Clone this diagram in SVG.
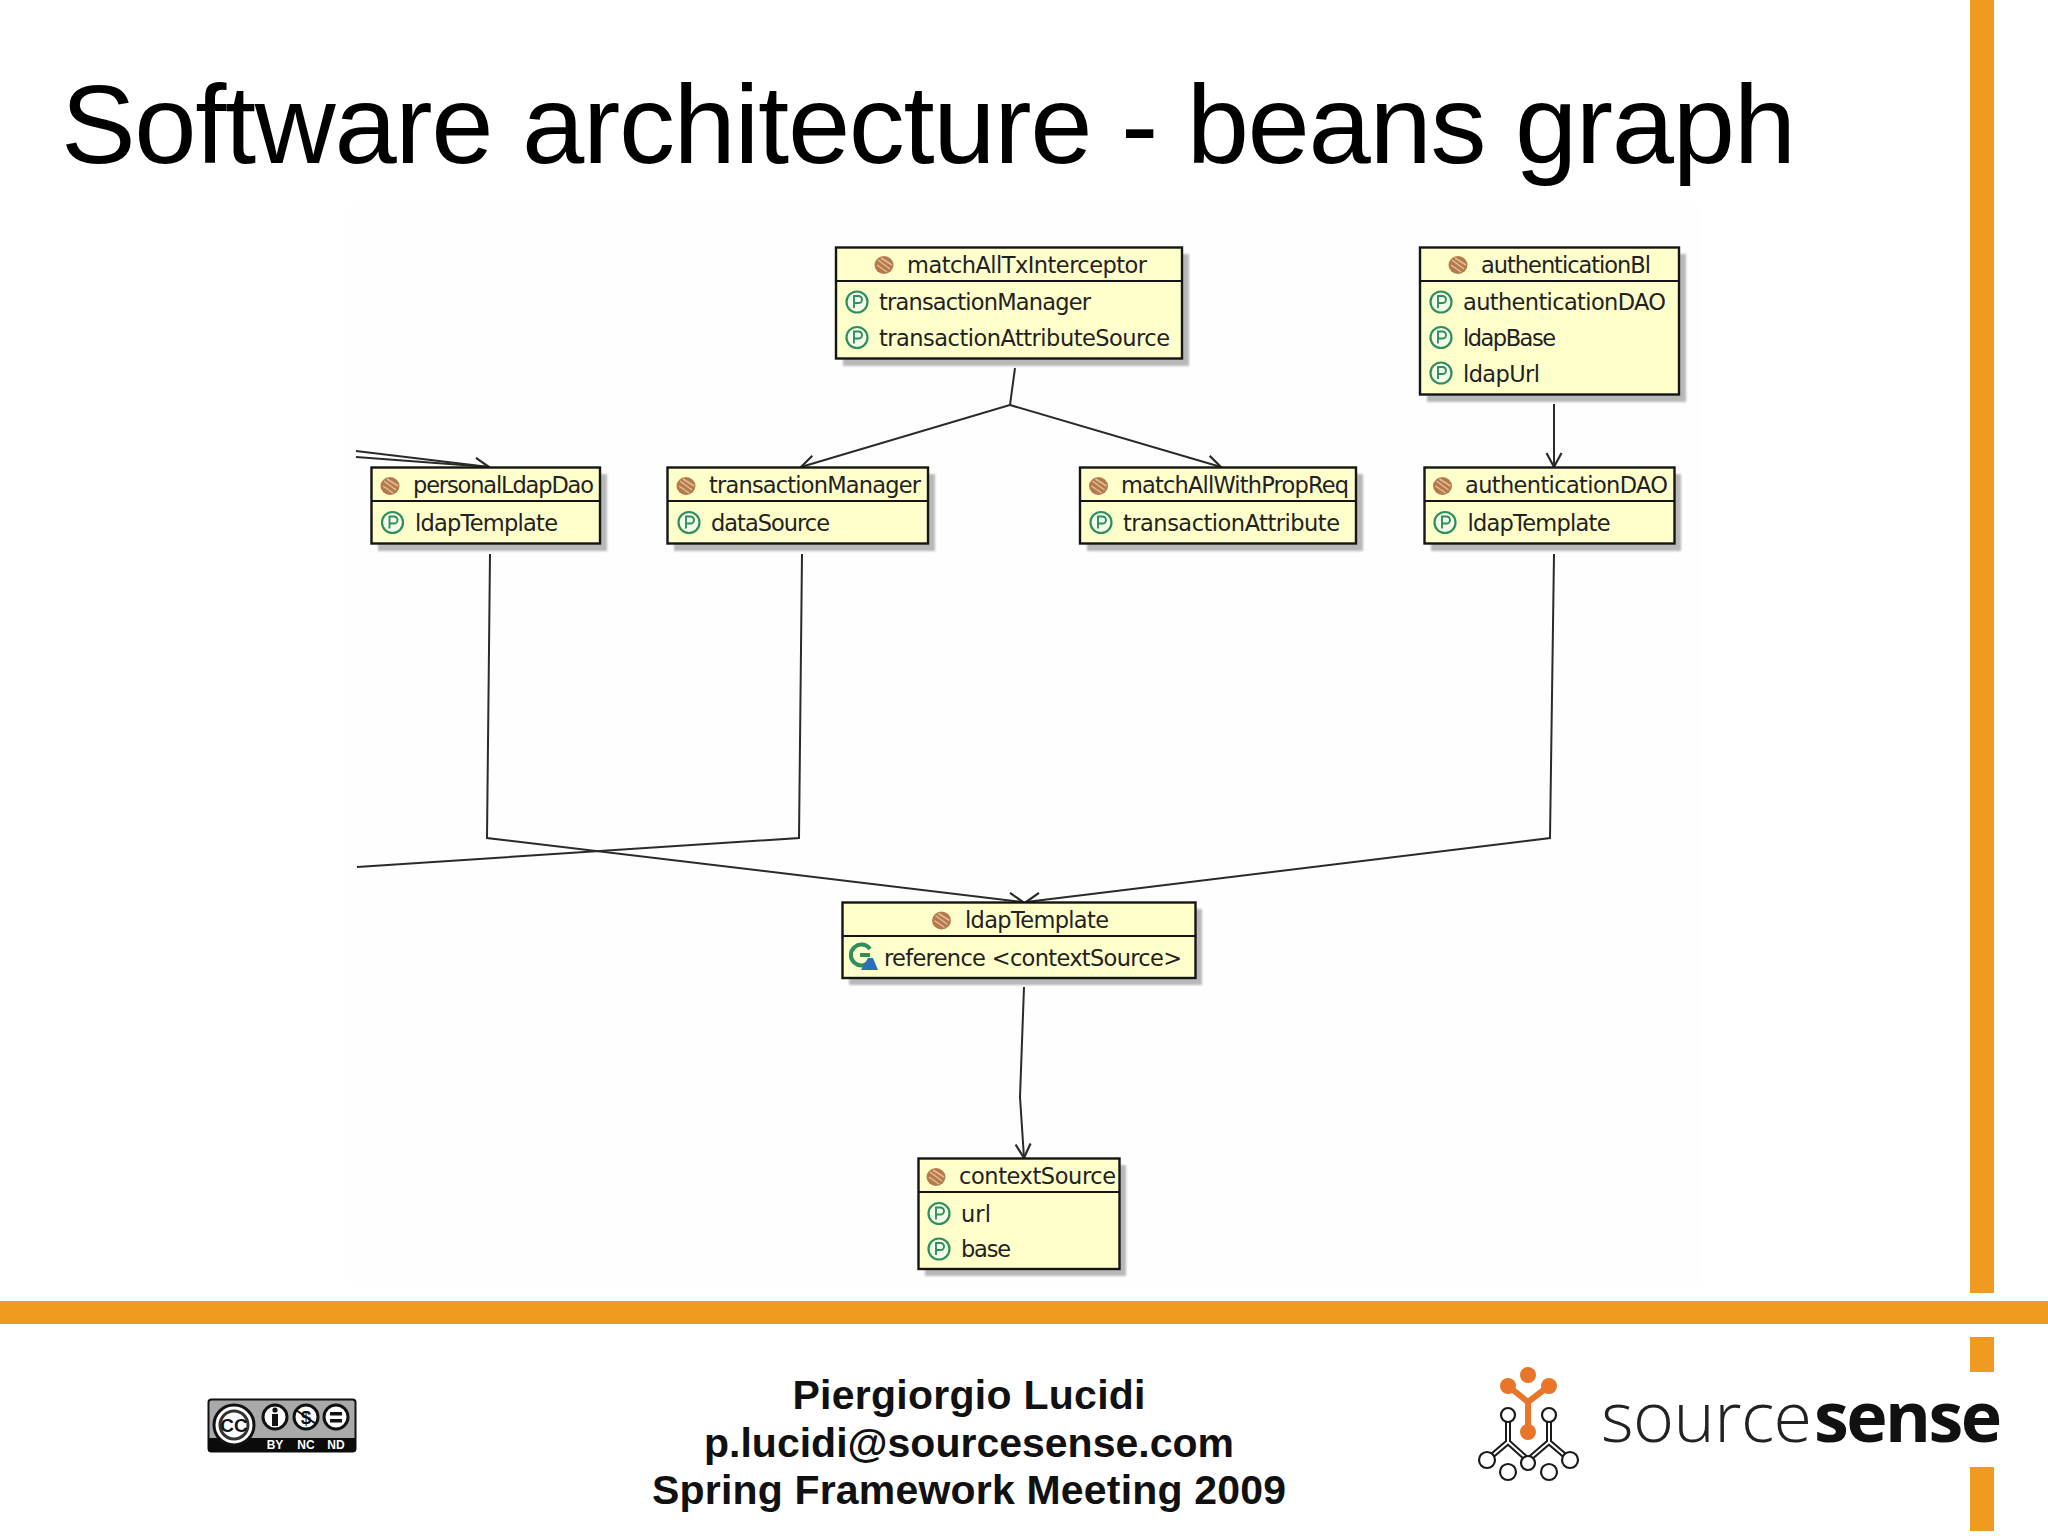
<svg xmlns="http://www.w3.org/2000/svg" width="2048" height="1536" viewBox="0 0 2048 1536">
<style>
.bar{fill:#ef9a21}
.box{fill:#ffffcc;stroke:#151515;stroke-width:2.4}
.div{stroke:#151515;stroke-width:2.2}
.shadow{fill:#b8b8b8;filter:url(#soft)}
.t{font-family:"DejaVu Sans","Liberation Sans",sans-serif;font-size:22.5px;fill:#222}
.conn{fill:none;stroke:#2a2a2a;stroke-width:2}
.foot{font-family:"Liberation Sans",Arial,sans-serif;font-size:41px;font-weight:700;fill:#111;text-anchor:middle}
.cc{font-family:"Liberation Sans",Arial,sans-serif;font-weight:700;text-anchor:middle}
</style>
<defs>
<filter id="soft" x="-5%" y="-5%" width="110%" height="110%"><feGaussianBlur stdDeviation="1.2"/></filter>
<marker id="arrow" markerUnits="userSpaceOnUse" markerWidth="22" markerHeight="22" refX="17" refY="11" orient="auto">
<path d="M3 3.500 L17 11 L3 18.500" fill="none" stroke="#2a2a2a" stroke-width="2.200"/>
</marker>
<g id="bean">
<ellipse cx="0" cy="0" rx="9.5" ry="9" fill="#b57a4c"/>
<path d="M-6 -5 L6 4 M-7 0 L3 7 M-3 -7 L8 0" stroke="#e3bd98" stroke-width="1.5" fill="none"/>
</g>
<g id="prop">
<circle cx="0" cy="0" r="10.5" fill="#f4fbe8" stroke="#2f8f5b" stroke-width="2.2"/>
<path d="M-3 6 V-6 H1.5 A3.5 3.5 0 0 1 1.5 1 H-3" fill="none" stroke="#2f8f5b" stroke-width="1.9"/>
</g>
</defs>
<rect width="2048" height="1536" fill="#ffffff"/>
<rect x="350" y="205" width="1350" height="1080" fill="#fefefe"/>

<g id="frame">
<rect class="bar" x="1970" y="0" width="24" height="1293"/>
<rect class="bar" x="0" y="1301" width="2048" height="23"/>
<rect class="bar" x="1970" y="1337" width="24" height="35"/>
<rect class="bar" x="1970" y="1467" width="24" height="64"/>
</g>

<text id="title" x="61" y="163" font-family="'Liberation Sans',Arial,sans-serif" font-size="112" fill="#000" textLength="1735">Software architecture - beans graph</text>

<g id="connectors">
<path class="conn" d="M1015 368 L1010 405 L801 467" marker-end="url(#arrow)"/>
<path class="conn" d="M1010 405 L1221 467" marker-end="url(#arrow)"/>
<path class="conn" d="M356 451 L489 467" marker-end="url(#arrow)"/>
<path class="conn" d="M356 457 L489 467"/>
<path class="conn" d="M1554 404 L1554 467" marker-end="url(#arrow)"/>
<path class="conn" d="M490 554 L487 838 L1023 902" marker-end="url(#arrow)"/>
<path class="conn" d="M802 554 L799 838 L357 867"/>
<path class="conn" d="M1554 554 L1550 838 L1026 902" marker-end="url(#arrow)"/>
<path class="conn" d="M1024 987 L1020 1097 L1024 1158" marker-end="url(#arrow)"/>
</g>

<g id="matchAllTxInterceptor">
<rect class="shadow" x="843" y="254" width="346" height="112"/>
<rect class="box" x="836" y="247.500" width="346" height="111"/>
<line class="div" x1="836" y1="281" x2="1182" y2="281"/>
<use href="#bean" x="884" y="265"/>
<text class="t" x="907" y="272.500" textLength="240">matchAllTxInterceptor</text>
<use href="#prop" x="857" y="302"/>
<text class="t" x="879" y="310" textLength="212">transactionManager</text>
<use href="#prop" x="857" y="337.500"/>
<text class="t" x="879" y="346" textLength="291">transactionAttributeSource</text>
</g>

<g id="authenticationBl">
<rect class="shadow" x="1427" y="254" width="259" height="148"/>
<rect class="box" x="1420" y="247.500" width="259" height="147"/>
<line class="div" x1="1420" y1="281" x2="1679" y2="281"/>
<use href="#bean" x="1458" y="265"/>
<text class="t" x="1481" y="272.500" textLength="170">authenticationBl</text>
<use href="#prop" x="1441" y="302"/>
<text class="t" x="1463" y="310" textLength="203">authenticationDAO</text>
<use href="#prop" x="1441" y="337.500"/>
<text class="t" x="1463" y="346" textLength="93">ldapBase</text>
<use href="#prop" x="1441" y="373"/>
<text class="t" x="1463" y="382" textLength="77">ldapUrl</text>
</g>

<g id="personalLdapDao">
<rect class="shadow" x="378" y="474" width="229" height="77"/>
<rect class="box" x="371.500" y="467.500" width="228.500" height="76"/>
<line class="div" x1="371.500" y1="501" x2="600" y2="501"/>
<use href="#bean" x="390" y="486"/>
<text class="t" x="413" y="493" textLength="181">personalLdapDao</text>
<use href="#prop" x="392.500" y="522.500"/>
<text class="t" x="415" y="531" textLength="143">ldapTemplate</text>
</g>

<g id="transactionManager">
<rect class="shadow" x="674" y="474" width="261" height="77"/>
<rect class="box" x="667.500" y="467.500" width="260.500" height="76"/>
<line class="div" x1="667.500" y1="501" x2="928" y2="501"/>
<use href="#bean" x="686" y="486"/>
<text class="t" x="709" y="493" textLength="212">transactionManager</text>
<use href="#prop" x="689" y="522.500"/>
<text class="t" x="711" y="531" textLength="119">dataSource</text>
</g>

<g id="matchAllWithPropReq">
<rect class="shadow" x="1087" y="474" width="276" height="77"/>
<rect class="box" x="1080" y="467.500" width="276" height="76"/>
<line class="div" x1="1080" y1="501" x2="1356" y2="501"/>
<use href="#bean" x="1098.500" y="486"/>
<text class="t" x="1121" y="493" textLength="228">matchAllWithPropReq</text>
<use href="#prop" x="1101" y="522.500"/>
<text class="t" x="1123" y="531" textLength="217">transactionAttribute</text>
</g>

<g id="authenticationDAO">
<rect class="shadow" x="1431" y="474" width="250" height="77"/>
<rect class="box" x="1424.500" y="467.500" width="250" height="76"/>
<line class="div" x1="1424.500" y1="501" x2="1674.500" y2="501"/>
<use href="#bean" x="1442.500" y="486"/>
<text class="t" x="1465" y="493" textLength="203">authenticationDAO</text>
<use href="#prop" x="1445" y="522.500"/>
<text class="t" x="1467.500" y="531" textLength="143">ldapTemplate</text>
</g>

<g id="ldapTemplate">
<rect class="shadow" x="849" y="909" width="353" height="76"/>
<rect class="box" x="842.500" y="902.500" width="353" height="75.500"/>
<line class="div" x1="842.500" y1="936" x2="1195.500" y2="936"/>
<use href="#bean" x="941.500" y="920.500"/>
<text class="t" x="965" y="928" textLength="144">ldapTemplate</text>
<path d="M870 949 A10.500 10.500 0 1 0 870 961 M860 955 H870" fill="none" stroke="#2f8f5b" stroke-width="4"/>
<path d="M868 958 H873 L878 970 H861 Z" fill="#2b6fb8"/>
<text class="t" x="884" y="966" textLength="298">reference &lt;contextSource&gt;</text>
</g>

<g id="contextSource">
<rect class="shadow" x="925" y="1165" width="201" height="111"/>
<rect class="box" x="918.500" y="1158.500" width="201" height="110.500"/>
<line class="div" x1="918.500" y1="1192" x2="1119.500" y2="1192"/>
<use href="#bean" x="936" y="1177"/>
<text class="t" x="959" y="1184" textLength="157">contextSource</text>
<use href="#prop" x="939" y="1213.500"/>
<text class="t" x="961" y="1222" textLength="30">url</text>
<use href="#prop" x="939" y="1249"/>
<text class="t" x="961" y="1257" textLength="50">base</text>
</g>

<g id="cc-badge">
<rect x="208.500" y="1399.500" width="147" height="52" rx="3" fill="#a9a9a9" stroke="#111" stroke-width="2"/>
<path d="M208 1438 H356 V1449 Q356 1452 353 1452 H211 Q208 1452 208 1449 Z" fill="#0b0b0b"/>
<circle cx="234" cy="1425" r="20" fill="#fff" stroke="#111" stroke-width="3"/>
<circle cx="234" cy="1425" r="14" fill="#fff" stroke="#333" stroke-width="3"/>
<text class="cc" x="234" y="1432" font-size="19" fill="#111">CC</text>
<circle cx="275" cy="1417" r="12" fill="#fff" stroke="#111" stroke-width="3"/>
<circle cx="275" cy="1410" r="2.600" fill="#111"/>
<rect x="272" y="1414" width="6" height="12" fill="#111"/>
<circle cx="306" cy="1417" r="12" fill="#fff" stroke="#111" stroke-width="3"/>
<text class="cc" x="306" y="1424" font-size="19" fill="#111">$</text>
<line x1="296" y1="1410" x2="316" y2="1424" stroke="#111" stroke-width="2"/>
<circle cx="336" cy="1417" r="12" fill="#fff" stroke="#111" stroke-width="3"/>
<rect x="330" y="1412" width="12" height="3.500" fill="#111"/>
<rect x="330" y="1419" width="12" height="3.500" fill="#111"/>
<text class="cc" x="275" y="1449" font-size="12" fill="#fff">BY</text>
<text class="cc" x="306" y="1449" font-size="12" fill="#fff">NC</text>
<text class="cc" x="336" y="1449" font-size="12" fill="#fff">ND</text>
</g>

<g id="footer">
<text class="foot" x="969" y="1409" textLength="353">Piergiorgio Lucidi</text>
<text class="foot" x="969" y="1457" textLength="530">p.lucidi@sourcesense.com</text>
<text class="foot" x="969" y="1504" textLength="634">Spring Framework Meeting 2009</text>
</g>

<g id="sourcesense-logo">
<path d="M1508 1386 L1528 1402 L1549 1386 M1528 1402 V1432" fill="none" stroke="#e8762a" stroke-width="6"/>
<circle cx="1528" cy="1375" r="8" fill="#e8762a"/>
<circle cx="1508" cy="1386" r="8" fill="#e8762a"/>
<circle cx="1549" cy="1386" r="8" fill="#e8762a"/>
<circle cx="1528" cy="1432" r="8" fill="#e8762a"/>
<path d="M1508 1420 V1442 L1487 1460 M1549 1420 V1442 L1570 1460 M1508 1442 L1528 1460 L1549 1442" fill="none" stroke="#1a1a1a" stroke-width="6"/>
<path d="M1508 1420 V1442 L1487 1460 M1549 1420 V1442 L1570 1460 M1508 1442 L1528 1460 L1549 1442" fill="none" stroke="#fff" stroke-width="2"/>
<g fill="#fff" stroke="#1a1a1a" stroke-width="2.200">
<circle cx="1508" cy="1415" r="7"/><circle cx="1549" cy="1415" r="7"/>
<circle cx="1487" cy="1460" r="8"/><circle cx="1570" cy="1460" r="8"/>
<circle cx="1528" cy="1463" r="7"/><circle cx="1508" cy="1472" r="8"/><circle cx="1549" cy="1472" r="8"/>
</g>
<text x="1601" y="1442" font-family="'Open Sans','Noto Sans',sans-serif" font-weight="300" font-size="70" fill="#222" textLength="211">source</text>
<text x="1814" y="1442" font-family="'Open Sans','Noto Sans',sans-serif" font-weight="700" font-size="70" fill="#111" textLength="188">sense</text>
</g>
</svg>
